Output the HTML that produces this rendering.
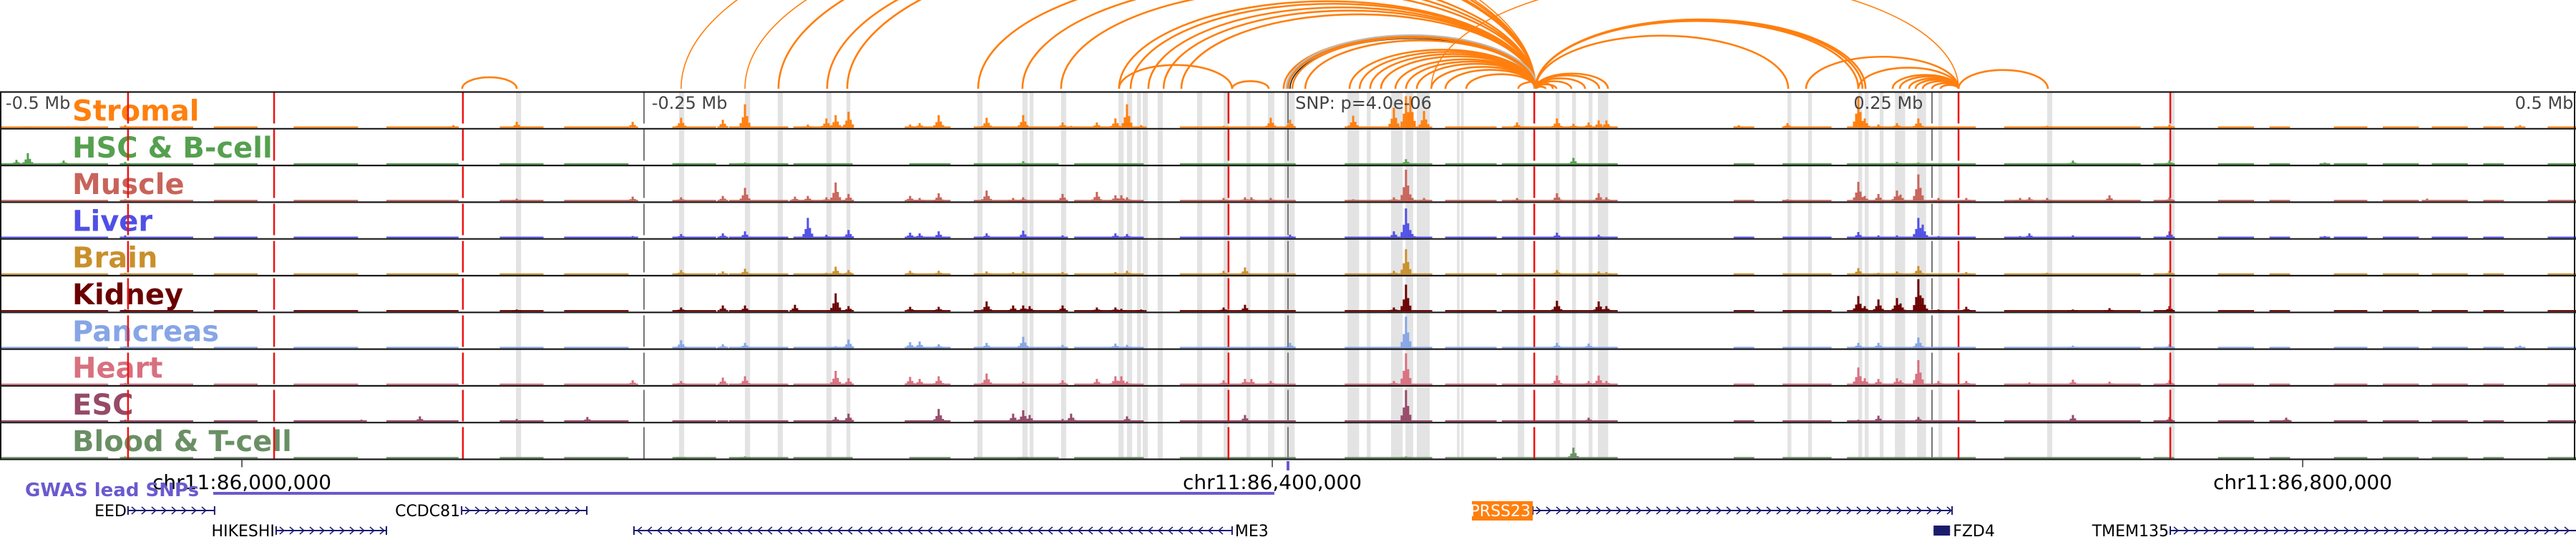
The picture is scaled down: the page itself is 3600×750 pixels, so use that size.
<!DOCTYPE html>
<html><head><meta charset="utf-8">
<style>
html,body{margin:0;padding:0;background:#fff;}
svg{display:block;font-family:"DejaVu Sans","Liberation Sans",sans-serif;}
</style></head>
<body>
<svg id="chart" width="3600" height="750" viewBox="0 0 3600 750" xmlns="http://www.w3.org/2000/svg">
<g id="bands"></g>
<g id="arcs"></g>
<g id="signals"></g>
<g id="labels"></g>
<g id="vlines"></g>
<g id="borders"></g>
<g id="axis"></g>
<g id="genes"></g>
</svg>
<script>
// ---- data (positions in kb from window start, chr11:85,906,100) ----
const windowStartBp = 85906100;
const tissues = ["Stromal","HSC & B-cell","Muscle","Liver","Brain","Kidney","Pancreas","Heart","ESC","Blood & T-cell"];
const tissueColors = ["#ff7f0e","#55a04f","#c8645a","#5050e6","#c8902c","#6b0000","#87a5e6","#d8707f","#964a68","#6a8f64"];
const peakPos = [6.4,10.8,24.7,48.6,140.3,163,176,200.6,228,245.6, 264.4,280.6,289.2,308.6,313.6,320.8,324.4,329.4,353.3,357, 364.4,383,393.3,397.2,399.7,412.5,415.8,425.8,433,435.3, 437.5,443,475,483.3,485.8,493.3,500.8,525.3,541.1,545.8, 547.5,552.8,588.9,604.4,610.8,616.7,620.6,623.6,675,693.9, 721.4,723.9,729.2,736.4,737.8,744.7,746.4,752.5,763.3,784.2, 787.8,794.7,804.7,818.9,842.2,887.5,902.5,942.2,978.3];
const stromal = [0,2,0,4,0,0,4,9,0,9, 15,12,35,0,5,14,19,24,5,7, 19,15,0,19,0,8,3,8,14,0, 35,4,3,0,0,15,12,18,30,47, 47,25,8,14,6,8,11,11,4,7, 47,14,5,7,0,14,0,0,0,0, 0,3,0,0,5,0,0,0,4];
const hscBcell = [7,17,6,4,0,0,0,0,0,0, 2,0,3,0,0,0,0,0,0,0, 0,0,0,5,0,0,0,0,0,0, 0,0,0,0,0,0,0,0,0,8, 0,0,0,0,10,0,0,0,0,0, 0,0,0,4,0,3,0,0,0,0, 0,0,6,0,6,0,3,0,0];
const muscle = [0,0,0,3,0,0,0,4,0,7, 6,8,20,7,8,6,28,11,8,5, 12,16,5,6,0,11,0,14,9,9, 6,0,5,6,6,5,0,3,6,47, 10,5,5,12,0,0,12,6,0,3, 29,8,11,16,10,40,0,5,5,5, 6,5,0,9,6,0,0,4,0];
const liver = [0,2,2,4,0,0,0,0,0,3, 6,7,10,0,30,5,0,12,8,7, 10,7,0,11,0,4,0,0,7,0, 6,0,0,0,0,0,5,0,10,44, 12,0,0,8,0,0,5,0,0,0, 9,0,4,4,0,30,20,3,0,3, 7,0,4,0,10,0,3,0,0];
const brain = [0,0,0,3,0,0,0,0,0,0, 7,5,9,0,0,3,12,7,6,0, 6,5,4,5,0,4,0,0,4,0, 6,0,6,11,0,0,0,0,6,38, 0,0,0,7,0,0,5,4,0,0, 10,0,3,5,0,13,0,0,4,0, 0,3,0,0,6,0,0,0,0];
const kidney = [0,0,0,3,0,0,0,3,0,0, 6,9,9,10,0,0,27,8,7,0, 7,15,9,9,8,9,0,6,6,4, 0,3,6,10,0,0,0,0,6,40, 0,0,0,16,0,0,15,8,0,0, 23,8,18,20,12,48,20,3,7,0, 0,0,3,5,8,0,0,0,0];
const pancreas = [0,0,0,3,0,0,0,0,0,0, 12,6,8,0,0,0,3,13,9,10, 6,8,0,17,0,5,0,0,7,0, 5,0,0,0,0,0,8,0,0,47, 0,0,0,8,0,7,0,0,0,0, 8,0,8,0,0,16,0,0,0,0, 0,0,4,0,6,0,0,0,4];
const heart = [0,0,0,3,0,0,0,0,0,7, 6,11,13,0,0,0,21,10,12,9, 13,17,0,5,0,7,0,9,13,13, 5,0,7,9,9,6,0,0,6,47, 0,0,0,14,0,6,14,6,0,0, 26,10,9,10,7,37,0,6,6,0, 4,0,8,5,7,0,0,0,0];
const esc = [0,0,0,3,3,8,0,4,7,0, 1,2,2,0,0,0,7,12,2,0, 19,2,12,17,10,4,12,0,0,0, 8,0,0,10,0,0,0,0,0,47, 0,0,0,0,0,6,0,0,0,0, 3,0,9,0,0,7,0,0,0,0, 0,0,10,0,7,6,0,0,0];
const bloodTcell = [0,0,0,3,0,0,0,0,0,0, 1,0,3,0,0,0,0,0,0,0, 0,0,0,2,0,0,0,0,0,0, 0,0,0,0,0,0,0,0,0,3, 0,0,0,0,16,0,0,0,0,0, 0,0,0,0,0,0,0,0,0,0, 0,0,0,0,0,0,0,0,0];
const tissueSignals = [stromal,hscBcell,muscle,liver,brain,kidney,pancreas,heart,esc,bloodTcell];
const baseStarts = [0,47,83,114,150,194,219,261,283,308,353,378,417,458,522,561,583,673,692,717,778,836,861,881,906,925,944,964,989];
const baseEnds   = [42,75,100,139,178,211,244,278,306,331,369,411,444,503,556,581,628,681,711,767,831,844,875,889,919,939,958,972,1000];
const bandStarts = [200.3,263.6,289.2,301.9,320.8,328.6,379.4,396.9,399.7,411.9,434.2,437.5,441.4,443.6,449.4,464.7,475,483.9,492.2,498.6,523.1,530.6,540,545.6,550,565.6,567.2,589.2,603.9,610.3,616.7,620.3,693.9,701.9,721.4,723.9,729.7,735.6,744.2,752.5,794.7,842.2];
const bandWidths = [2,2,2,2,2,1.5,2,2,1.5,2,2,2,1.5,2,2,2,2,1.5,2.5,4,4.5,1.5,4.5,3,5,1,1,2.5,1.5,1.5,1.5,4,1.5,1.5,1.5,1.5,1.5,4,3.5,1.5,2,2];
const arcStarts = [179.4,264.4,289.2,302.2,321.1,328.9,379.7,396.9,411.9,434.4,438.9,445.8,451.7,458.6,498.3,500,501.7,506.7,523.9,527.8,531.9,536.1,541.7,545.8,550,555.6,561.1,569.2,596.1,596.1,596.1,596.1,596.1,596.1,596.1,596.1,596.1,596.1,434.4,478.3,589.4,701.1,721.4,734.7,737.5,741.1,743.6,746.4,750,753.3,760.3,555.6];
const arcEnds   = [200.6,596.1,596.1,596.1,596.1,596.1,596.1,596.1,596.1,596.1,596.1,596.1,596.1,596.1,596.1,596.1,596.1,596.1,596.1,596.1,596.1,596.1,596.1,596.1,596.1,596.1,596.1,596.1,600,604.2,610,615.3,620.8,624.2,694.2,721.4,723,724.2,478.3,492.5,602.8,760.3,760.3,760.3,760.3,760.3,760.3,760.3,760.3,760.3,795,760.3];
const redLines = [49.7,106.4,179.7,476.9,595.6,760.3,842.5];
const grayLines = [250,500,750];
const scaleLabels = ["-0.5 Mb","-0.25 Mb","SNP: p=4.0e-06","0.25 Mb","0.5 Mb"];
const scaleLabelPos = [2.2,253,502.8,746.5,999];
const scaleLabelAnchor = ["start","start","start","end","end"];
const tickBp = [86000000,86400000,86800000];
const tickLabels = ["chr11:86,000,000","chr11:86,400,000","chr11:86,800,000"];
const gwasStart = 82.8, gwasEnd = 494.7, gwasSnp = 500;
const geneNames = ["EED","CCDC81","HIKESHI","ME3","PRSS23","FZD4","TMEM135"];
const geneStarts = [49.7,179.2,107.2,246.1,595,750.6,842.5];
const geneEnds = [83.3,227.8,150,478.3,757.8,757,1010];
const geneStrands = ["+","+","+","-","+","-","+"];
const geneRows = [0,0,1,1,0,1,1];
const geneLabelSide = ["left","left","left","right","left","right","left"];

// ---- scales ----
const W = 3600, trackTop = 128.5, trackH = 51.3, nTracks = tissues.length;
const trackBottom = trackTop + trackH*nTracks;
const x = kb => kb*3.6;
const xbp = bp => (bp - windowStartBp)/1000*3.6;
const ySig = v => v/50*47;
const NS = "http://www.w3.org/2000/svg";
function mk(tag, attrs, parent){const e=document.createElementNS(NS,tag);for(const k in attrs)e.setAttribute(k,attrs[k]);parent.appendChild(e);return e;}

// bands
const gB = document.getElementById('bands');
bandStarts.forEach((b,i)=>{
  const r = mk('rect',{x:x(b),y:trackTop,width:bandWidths[i]*3.6,height:trackBottom-trackTop,fill:'#e3e3e3'},gB);
  
  
});

// arcs
const gA = document.getElementById('arcs');
const arcBase = 124;
arcStarts.forEach((s,i)=>{
  const e = arcEnds[i];
  const x1 = x(s), x2 = x(e), a = (x2-x1)/2, h = 0.42*a;
  const thin = (i===arcStarts.length-1)||(e-s>300);
  if(s===500){
    const g = mk('path',{d:`M${x1} ${arcBase} A${a} ${h} 0 0 1 ${x2} ${arcBase}`,fill:'none',stroke:'#bbb','stroke-width':7},gA);
    
    
  }
  const p = mk('path',{d:`M${x1} ${arcBase} A${a} ${h} 0 0 1 ${x2} ${arcBase}`,fill:'none',stroke:'#ff7f0e','stroke-width':thin?1.6:2.6},gA);
  
  
  if(s===500){
    const k = mk('path',{d:`M${x1+3} ${arcBase} A${a-3} ${h-3} 0 0 1 ${x2} ${arcBase}`,fill:'none',stroke:'#000','stroke-width':1.2},gA);
    
    
  }
});

// signal tracks
const gS = document.getElementById('signals');
tissues.forEach((t,ti)=>{
  const g = mk('g',{},gS);
  
  
  const base = trackTop + trackH*(ti+1) - 1.2;
  const col = tissueColors[ti];
  baseStarts.forEach((bs,j)=>{
    const r = mk('rect',{x:x(bs),y:base-2,width:x(baseEnds[j])-x(bs),height:2,fill:col},g);
    
    
  });
  const vals = tissueSignals[ti];
  peakPos.forEach((p,j)=>{
    const v = vals[j]; if(!v) return;
    const cx = x(p), h = ySig(v);
    [[0,1],[-3,0.45],[3,0.5],[-6,0.2],[6,0.22]].forEach(([dx,f])=>{
      const hh = Math.max(2,h*f);
      const r = mk('rect',{x:cx+dx-1.5,y:base-hh,width:3,height:hh,fill:col},g);
      
      
    });
  });
});

// labels
const gL = document.getElementById('labels');
tissues.forEach((t,ti)=>{
  const tx = mk('text',{x:101,y:trackTop+trackH*ti+40,fill:tissueColors[ti],'font-size':40,'font-weight':'bold'},gL);
  tx.textContent = t;
  
  
});
scaleLabels.forEach((s,i)=>{
  const tx = mk('text',{x:x(scaleLabelPos[i]),y:152,fill:'#444','font-size':24,'text-anchor':scaleLabelAnchor[i]},gL);
  tx.textContent = s;
  
  
});

// vertical lines
const gV = document.getElementById('vlines');
redLines.forEach(r=>{
  const l = mk('line',{x1:x(r),x2:x(r),y1:trackTop,y2:trackBottom,stroke:'#ee1111','stroke-width':2.5,'stroke-dasharray':'44 8'},gV);
  
  
});
grayLines.forEach(r=>{
  const l = mk('line',{x1:x(r),x2:x(r),y1:trackTop,y2:trackBottom,stroke:'#777','stroke-width':2,'stroke-dasharray':'44 8'},gV);
  
  
});

// borders
const gBo = document.getElementById('borders');
for(let i=0;i<=nTracks;i++){
  const y = trackTop + trackH*i;
  const l = mk('line',{x1:0,x2:W,y1:y,y2:y,stroke:'#1a1a1a','stroke-width':2.2},gBo);
  
  
}
[1,3598].forEach(xx=>{
  const l = mk('line',{x1:xx,x2:xx,y1:trackTop,y2:trackBottom,stroke:'#1a1a1a','stroke-width':2},gBo);
  
  
});

// axis
const gX = document.getElementById('axis');
tickBp.forEach((b,i)=>{
  const tx0 = xbp(b);
  const l = mk('line',{x1:tx0,x2:tx0,y1:trackBottom,y2:trackBottom+11,stroke:'#333','stroke-width':1.5},gX);
  
  
  const t = mk('text',{x:tx0,y:683,'font-size':28,'text-anchor':'middle',fill:'#000'},gX);
  t.textContent = tickLabels[i];
  
  
});

// GWAS
const gG = document.getElementById('genes');
const gl = mk('rect',{x:x(gwasStart),y:687,width:x(gwasEnd)-x(gwasStart),height:4,fill:'#6a5acd'},gG);


const gs = mk('rect',{x:x(gwasSnp)-2,y:644,width:4,height:13,fill:'#6a5acd'},gG);


const gt = mk('text',{x:35,y:693,'font-size':26,'font-weight':'bold',fill:'#6a5acd'},gG);
gt.textContent = 'GWAS lead SNPs';



// genes
const rowY = [713,741];
geneNames.forEach((n,i)=>{
  const g = mk('g',{},gG);
  
  
  const x1 = x(geneStarts[i]), x2 = Math.min(x(geneEnds[i]), W), y = rowY[geneRows[i]];
  const col = '#1c1c6e';
  mk('line',{x1:x1,x2:x2,y1:y,y2:y,stroke:col,'stroke-width':2},g);
  if(n==='FZD4'){ mk('rect',{x:x1,y:y-7,width:x2-x1,height:14,fill:col},g); }
  else {
    mk('line',{x1:x1,x2:x1,y1:y-6,y2:y+6,stroke:col,'stroke-width':2},g);
    if(x2<W-2) mk('line',{x1:x2,x2:x2,y1:y-6,y2:y+6,stroke:col,'stroke-width':2},g);
    const dir = geneStrands[i]==='+'?1:-1;
    for(let cx=x1+8; cx<x2-4; cx+=14){
      mk('polyline',{points:`${cx-3*dir},${y-5} ${cx+3*dir},${y} ${cx-3*dir},${y+5}`,fill:'none',stroke:col,'stroke-width':1.5},g);
    }
  }
  if(n==='PRSS23'){
    mk('rect',{x:2057,y:700,width:x1-2057,height:27,fill:'#ff7f0e'},g);
    const t = mk('text',{x:x1-3,y:y+8,'font-size':22,'text-anchor':'end',fill:'#fff'},g);
    t.textContent = n;
  } else if(geneLabelSide[i]==='left'){
    const t = mk('text',{x:x1-2,y:y+8,'font-size':22,'text-anchor':'end',fill:'#000'},g);
    t.textContent = n;
  } else {
    const t = mk('text',{x:x2+4,y:y+8,'font-size':22,'text-anchor':'start',fill:'#000'},g);
    t.textContent = n;
  }
});
</script>
</body></html>
